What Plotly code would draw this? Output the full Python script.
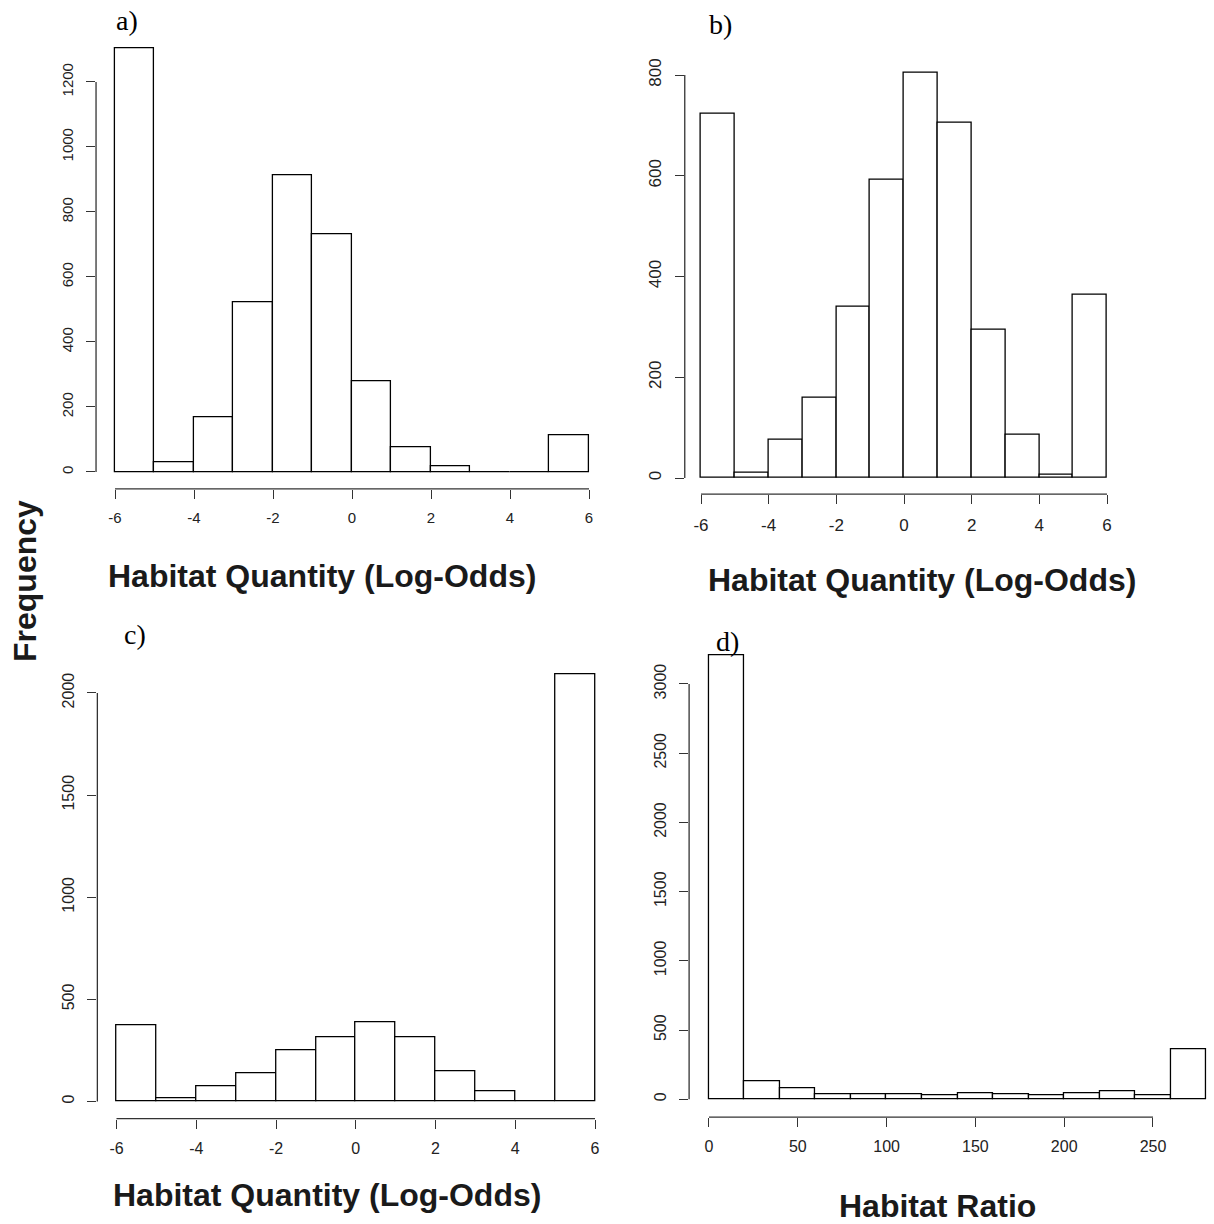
import plotly.graph_objects as go

# ---------------- data ----------------
edges_logodds = [-6, -5, -4, -3, -2, -1, 0, 1, 2, 3, 4, 5, 6]
counts_a = [1304, 29, 168, 521, 914, 731, 279, 76, 17, 0, 0, 112]
counts_b = [724, 11, 75, 160, 339, 592, 804, 705, 294, 86, 7, 364]
counts_c = [372, 15, 74, 136, 251, 312, 389, 312, 147, 51, 3, 2091]
edges_ratio = [0, 20, 40, 60, 80, 100, 120, 140, 160, 180, 200, 220, 240, 260, 280]
counts_d = [3209, 129, 77, 35, 35, 35, 27, 42, 35, 27, 42, 57, 27, 361]

xticks_logodds = [-6, -4, -2, 0, 2, 4, 6]
xticks_ratio = [0, 50, 100, 150, 200, 250]
yticks_a = [0, 200, 400, 600, 800, 1000, 1200]
yticks_b = [0, 200, 400, 600, 800]
yticks_c = [0, 500, 1000, 1500, 2000]
yticks_d = [0, 500, 1000, 1500, 2000, 2500, 3000]

panel_labels = ["a)", "b)", "c)", "d)"]
xtitles = ["Habitat Quantity (Log-Odds)", "Habitat Quantity (Log-Odds)",
           "Habitat Quantity (Log-Odds)", "Habitat Ratio"]
ytitle = "Frequency"

W, H = 1214, 1224
AX = "#333333"
TXT = "#222222"
SANS = "Liberation Sans, Arial, sans-serif"
SERIF = "Liberation Serif, Times New Roman, serif"


def xdom(px_a, v_a, px_b, v_b, r0, r1):
    s = (px_b - px_a) / (v_b - v_a)
    left = px_a + (r0 - v_a) * s
    right = px_a + (r1 - v_a) * s
    return [max(0, left / W), min(1, right / W)]


def ydom(py0, py1, v1, r0, r1):
    s = (py0 - py1) / v1
    bottom = py0 - r0 * s
    top = py0 - r1 * s
    return [1 - bottom / H, 1 - top / H]


panels = [
    dict(edges=edges_logodds, counts=counts_a, xt=xticks_logodds, yt=yticks_a,
         xpx=(115, -6, 589, 6), ypx=(472, 82, 1200), xr=[-6.48, 6.48], fs_x=15, fs_y=15,
         lab=(127, 20), tit=(322, 576)),
    dict(edges=edges_logodds, counts=counts_b, xt=xticks_logodds, yt=yticks_b,
         xpx=(701, -6, 1107, 6), ypx=(478, 75, 800), xr=[-6.48, 6.48], fs_x=17, fs_y=17,
         lab=(720, 24), tit=(922, 580)),
    dict(edges=edges_logodds, counts=counts_c, xt=xticks_logodds, yt=yticks_c,
         xpx=(116.5, -6, 595, 6), ypx=(1101.5, 693, 2000), xr=[-6.48, 6.48], fs_x=16, fs_y=16,
         lab=(135, 634), tit=(327, 1195)),
    dict(edges=edges_ratio, counts=counts_d, xt=xticks_ratio, yt=yticks_d,
         xpx=(709, 0, 1153, 250), ypx=(1099.3, 684, 3000), xr=[-11.2, 283.6], fs_x=16, fs_y=16,
         lab=(727, 641), tit=(937, 1206)),
]

fig = go.Figure()
shapes = []
annotations = []
layout_axes = {}

for i, p in enumerate(panels):
    n = "" if i == 0 else str(i + 1)
    e = p["edges"]
    centers = [(e[k] + e[k + 1]) / 2 for k in range(len(e) - 1)]
    widths = [e[k + 1] - e[k] for k in range(len(e) - 1)]
    fig.add_trace(go.Bar(
        x=centers, y=p["counts"], width=widths,
        marker=dict(color="white", line=dict(color="black", width=1.3)),
        xaxis="x" + n, yaxis="y" + n, showlegend=False, hoverinfo="x+y"))

    ymax = max(p["counts"])
    yr = [-0.04 * ymax, 1.04 * ymax]
    layout_axes["xaxis" + n] = dict(
        domain=xdom(*p["xpx"], *p["xr"]), range=p["xr"], anchor="y" + n,
        tickvals=p["xt"], ticktext=[str(v) for v in p["xt"]],
        ticks="outside", ticklen=9, tickwidth=1.3, tickcolor=AX,
        showline=False, showgrid=False, zeroline=False,
        tickfont=dict(family=SANS, size=p["fs_x"], color=TXT),
        ticklabelstandoff=6)
    layout_axes["yaxis" + n] = dict(
        domain=ydom(p["ypx"][0], p["ypx"][1], p["ypx"][2], *yr), range=yr, anchor="x" + n,
        tickvals=p["yt"], ticktext=[str(v) for v in p["yt"]],
        ticks="outside", ticklen=9, tickwidth=1.3, tickcolor=AX, tickangle=-90,
        showline=False, showgrid=False, zeroline=False,
        tickfont=dict(family=SANS, size=p["fs_y"], color=TXT),
        ticklabelstandoff=7)

    shapes.append(dict(type="line", xref="x" + n, yref="y" + n + " domain",
                       x0=p["xt"][0], x1=p["xt"][-1], y0=0, y1=0,
                       line=dict(color=AX, width=1.3)))
    shapes.append(dict(type="line", xref="x" + n + " domain", yref="y" + n,
                       x0=0, x1=0, y0=p["yt"][0], y1=p["yt"][-1],
                       line=dict(color=AX, width=1.3)))

    annotations.append(dict(text=panel_labels[i], xref="paper", yref="paper",
                            x=p["lab"][0] / W, y=1 - p["lab"][1] / H,
                            xanchor="center", yanchor="middle", showarrow=False,
                            font=dict(family=SERIF, size=28, color="black")))
    annotations.append(dict(text="<b>" + xtitles[i] + "</b>", xref="paper", yref="paper",
                            x=p["tit"][0] / W, y=1 - p["tit"][1] / H,
                            xanchor="center", yanchor="middle", showarrow=False,
                            font=dict(family=SANS, size=32, color="#1a1a1a")))

annotations.append(dict(text="<b>" + ytitle + "</b>", xref="paper", yref="paper",
                        x=25 / W, y=1 - 581 / H, textangle=-90,
                        xanchor="center", yanchor="middle", showarrow=False,
                        font=dict(family=SANS, size=32, color="#1a1a1a")))

fig.update_layout(
    width=W, height=H, margin=dict(l=0, r=0, t=0, b=0),
    paper_bgcolor="white", plot_bgcolor="white",
    bargap=0, shapes=shapes, annotations=annotations,
    **layout_axes)

fig.write_html("out.html")
